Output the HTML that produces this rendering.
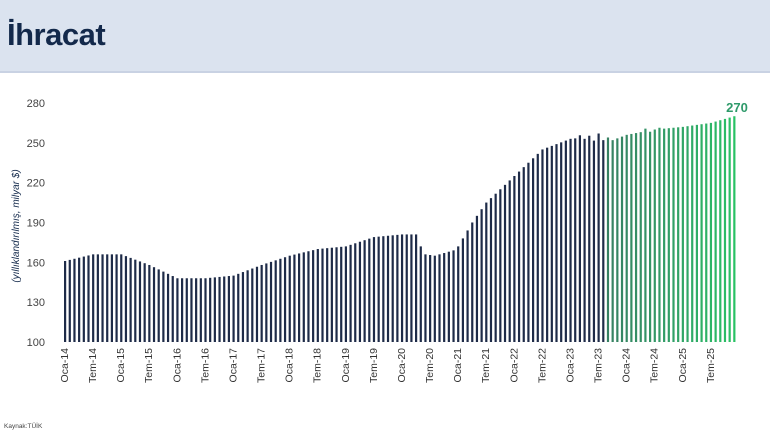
<!DOCTYPE html>
<html><head><meta charset="utf-8"><style>
body{margin:0;width:770px;height:433px;background:#fff;overflow:hidden;font-family:"Liberation Sans",sans-serif}
.hdr{position:absolute;left:0;top:0;width:770px;height:71px;background:#dbe3ef;border-bottom:2px solid #c9d2e3}
.hdr span{position:absolute;left:7px;top:17px;font-size:31px;font-weight:bold;color:#13294b;letter-spacing:-0.5px}
</style></head><body>
<div class="hdr"><span>İhracat</span></div>
<svg id="s" width="770" height="433" style="position:absolute;left:0;top:0">
</svg>
<script>
var s=document.getElementById('s'),NS='http://www.w3.org/2000/svg';
function el(t,a,tx){var e=document.createElementNS(NS,t);for(var k in a)e.setAttribute(k,a[k]);if(tx)e.textContent=tx;s.appendChild(e);return e;}
function Y(v){return 342-(v-100)*1.328;}
[100,130,160,190,220,250,280].forEach(function(v){el('text',{x:45,y:Y(v)+4,'font-size':11,fill:'#444','text-anchor':'end'},v);});
el('text',{transform:'translate(19,226) rotate(-90)','font-size':10,'font-style':'italic',fill:'#13294b','text-anchor':'middle'},'(yıllıklandırılmış, milyar $)');
el('text',{x:4,y:428,'font-size':6.5,fill:'#444'},'Kaynak:TÜİK');
var k=[[0,161],[6,166],[12,166],[18,158],[24,148],[30,148],[36,150],[42,158],[48,165],[54,170],[60,172],[66,179],[72,181],[75,181],[76,172],[77,166],[79,165],[83,169],[84,172],[87,190],[90,205],[96,225],[102,245],[108,253],[114,255],[117,252],[120,256],[126,260],[132,262],[138,265],[143,270]];
function val(i){for(var j=0;j<k.length-1;j++){if(i>=k[j][0]&&i<=k[j+1][0]){var t=(i-k[j][0])/(k[j+1][0]-k[j][0]);return k[j][1]+t*(k[j+1][1]-k[j][1]);}}return 270;}
var noise={110:2,111:-1,112:1,113:-3,114:2,115:-2,116:1,124:2,125:-1,127:1};
var x0=64,dx=4.68;
for(var i=0;i<144;i++){var v=val(i)+(noise[i]||0);var x=x0+i*dx;
var f=(i-116)/27;
var c=i<116?'#1e2b48':'hsl('+(155-f*12)+','+(40+f*25)+'%,'+(36+f*10)+'%)';
el('rect',{x:x,y:Y(v),width:2.2,height:342-Y(v),fill:c});}
var lab=['Oca','Tem'];
for(var i=0;i<144;i+=6){var yy=14+Math.floor(i/12);var x=x0+i*dx+4;
el('text',{transform:'translate('+x+',348) rotate(-90)','font-size':10.5,fill:'#333','text-anchor':'end'},lab[(i/6)%2]+'-'+yy);}
el('text',{x:737,y:112,'font-size':13,'font-weight':'bold',fill:'#2e9a6a','text-anchor':'middle'},'270');
</script>
</body></html>
